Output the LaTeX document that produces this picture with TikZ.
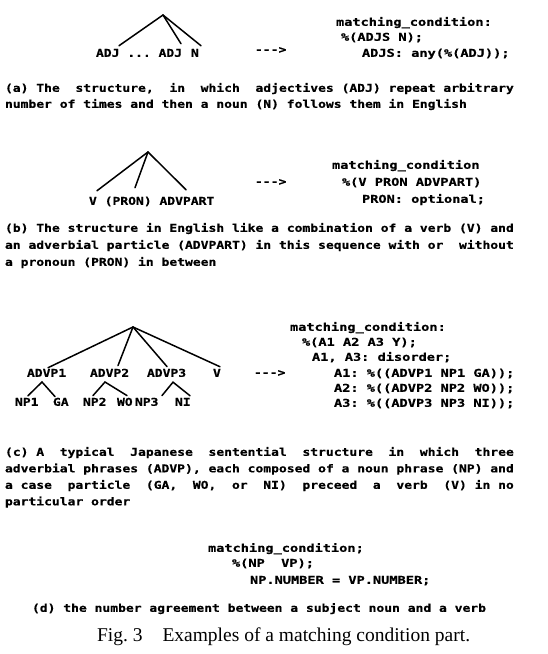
\documentclass[tikz,border=0pt]{standalone}
\usepackage{fontspec}
\usetikzlibrary{calc}
% printer-style monospaced faces: one pitch for trees and captions, a wider one for the rules
\newfontfamily\capfont[FakeStretch=1.204, BoldFeatures={FakeBold=0.6}]{DejaVu Sans Mono}
\newfontfamily\codefont[FakeStretch=1.261, BoldFeatures={FakeBold=0.6}]{DejaVu Sans Mono}
\newfontfamily\figfont{Liberation Serif}
\frenchspacing
\tikzset{
  ptxt/.style={anchor=base west, inner sep=0pt, outer sep=0pt,
    font=\capfont\bfseries\fontsize{10.8}{12}\selectfont},
  rule/.style={anchor=base west, inner sep=0pt, outer sep=0pt,
    font=\codefont\bfseries\fontsize{10.8}{12}\selectfont},
  figcap/.style={anchor=base west, inner sep=0pt, outer sep=0pt,
    font=\figfont\fontsize{19.5}{22}\selectfont},
  branch/.style={line width=1.5pt, line cap=round}
}
\begin{document}
\begin{tikzpicture}[x=1pt,y=-1pt]
\path[use as bounding box, fill=white] (0,0) rectangle (548,654);

% ---------------- (a) ----------------
\coordinate (a-top) at (163,15);
\node[ptxt] (a-adj1) at (96,56.8) {ADJ};
\node[ptxt] (a-dots) at (127.3,56.8) {...};
\node[ptxt] (a-adj2) at (158.6,56.8) {ADJ};
\node[ptxt] (a-n) at (191,56.8) {N};
\draw[branch] (a-top) -- ([xshift=23pt,yshift=3.2pt]a-adj1.north west);
\draw[branch] (a-top) -- ([xshift=22.4pt,yshift=5.2pt]a-adj2.north west);
\draw[branch] (a-top) -- ([xshift=10pt,yshift=3.2pt]a-n.north west);
\node[ptxt] (a-arrow) at (255,53.3) {-{}-{}->};
\node[rule] (a-cond1) at (336,25.8) {matching\_condition:};
\node[rule] (a-cond2) at (341,40.8) {\%(ADJS N);};
\node[rule] (a-cond3) at (362,56.8) {ADJS: any(\%(ADJ));};
\node[ptxt] (a-cap1) at (5,91.8) {(a) The~ structure,~ in~ which~ adjectives (ADJ) repeat arbitrary};
\node[ptxt] (a-cap2) at (5,107.8) {number of times and then a noun (N) follows them in English};

% ---------------- (b) ----------------
\coordinate (b-top) at (148,152);
\node[ptxt] (b-v) at (89,204.8) {V};
\node[ptxt] (b-pron) at (104.7,204.8) {(PRON)};
\node[ptxt] (b-advpart) at (159.5,204.8) {ADVPART};
\draw[branch] (b-top) -- ([xshift=8pt,yshift=6.2pt]b-v.north west);
\draw[branch] (b-top) -- ([xshift=30.3pt,yshift=8.9pt]b-pron.north west);
\draw[branch] (b-top) -- ([xshift=26.5pt,yshift=7.2pt]b-advpart.north west);
\node[ptxt] (b-arrow) at (255,185.3) {-{}-{}->};
\node[rule] (b-cond1) at (332,168.8) {matching\_condition};
\node[rule] (b-cond2) at (342,185.8) {\%(V PRON ADVPART)};
\node[rule] (b-cond3) at (362,202.8) {PRON: optional;};
\node[ptxt] (b-cap1) at (5,231.8) {(b) The structure in English like a combination of a verb (V) and};
\node[ptxt] (b-cap2) at (5,248.8) {an adverbial particle (ADVPART) in this sequence with or~ without};
\node[ptxt] (b-cap3) at (5,265.8) {a pronoun (PRON) in between};

% ---------------- (c) ----------------
\coordinate (c-top) at (133,327);
\node[ptxt] (c-advp1) at (27,376.8) {ADVP1};
\node[ptxt] (c-advp2) at (90,376.8) {ADVP2};
\node[ptxt] (c-advp3) at (147,376.8) {ADVP3};
\node[ptxt] (c-v) at (213,376.8) {V};
\draw[branch] (c-top) -- ([xshift=21pt,yshift=1.2pt]c-advp1.north west);
\draw[branch] (c-top) -- ([xshift=28pt,yshift=3.2pt]c-advp2.north west);
\draw[branch] (c-top) -- ([xshift=20pt,yshift=2.2pt]c-advp3.north west);
\draw[branch] (c-top) -- ([xshift=7pt,yshift=2.2pt]c-v.north west);

\node[ptxt] (c-np1) at (15,405.8) {NP1};
\node[ptxt] (c-ga) at (53,405.8) {GA};
\node[ptxt] (c-np2) at (83,405.8) {NP2};
\node[ptxt] (c-wo) at (117,405.8) {WO};
\node[ptxt] (c-np3) at (135,405.8) {NP3};
\node[ptxt] (c-ni) at (175,405.8) {NI};
\coordinate (c-sub1) at ([xshift=15pt,yshift=-5.2pt]c-advp1.south west);
\coordinate (c-sub2) at ([xshift=15pt,yshift=-5.2pt]c-advp2.south west);
\coordinate (c-sub3) at ([xshift=26pt,yshift=-5.2pt]c-advp3.south west);
\draw[branch] ([xshift=13pt,yshift=2.2pt]c-np1.north west) -- (c-sub1) -- ([xshift=2pt,yshift=1.2pt]c-ga.north west);
\draw[branch] ([xshift=10pt,yshift=2.2pt]c-np2.north west) -- (c-sub2) -- ([xshift=10pt,yshift=2.2pt]c-wo.north west);
\draw[branch] ([xshift=27pt,yshift=2.2pt]c-np3.north west) -- (c-sub3) -- ([xshift=15pt,yshift=2.2pt]c-ni.north west);

\node[ptxt] (c-arrow) at (254,376.3) {-{}-{}->};
\node[rule] (c-cond1) at (290,330.8) {matching\_condition:};
\node[rule] (c-cond2) at (302,345.8) {\%(A1 A2 A3 Y);};
\node[rule] (c-cond3) at (312,360.8) {A1, A3: disorder;};
\node[rule] (c-cond4) at (334,376.8) {A1: \%((ADVP1 NP1 GA));};
\node[rule] (c-cond5) at (334,391.8) {A2: \%((ADVP2 NP2 WO));};
\node[rule] (c-cond6) at (334,406.8) {A3: \%((ADVP3 NP3 NI));};
\node[ptxt] (c-cap1) at (5,455.8) {(c) A~ typical~ Japanese~ sentential~ structure~ in~ which~ three};
\node[ptxt] (c-cap2) at (5,472.3) {adverbial phrases (ADVP), each composed of a noun phrase (NP) and};
\node[ptxt] (c-cap3) at (5,488.8) {a case~ particle~ (GA,~ WO,~ or~ NI)~ preceed~ a~ verb~ (V) in no};
\node[ptxt] (c-cap4) at (5,505.3) {particular order};

% ---------------- (d) ----------------
\node[rule] (d-cond1) at (208,551.8) {matching\_condition;};
\node[rule] (d-cond2) at (232,566.8) {\%(NP~ VP);};
\node[rule] (d-cond3) at (250,583.8) {NP.NUMBER = VP.NUMBER;};
\node[ptxt] (d-cap) at (32,611.8) {(d) the number agreement between a subject noun and a verb};

% ---------------- figure caption ----------------
\node[figcap] (fig-cap) at (97,641.4) {Fig.\ 3\hspace{20pt}Examples of a matching condition part.};
\end{tikzpicture}
\end{document}
